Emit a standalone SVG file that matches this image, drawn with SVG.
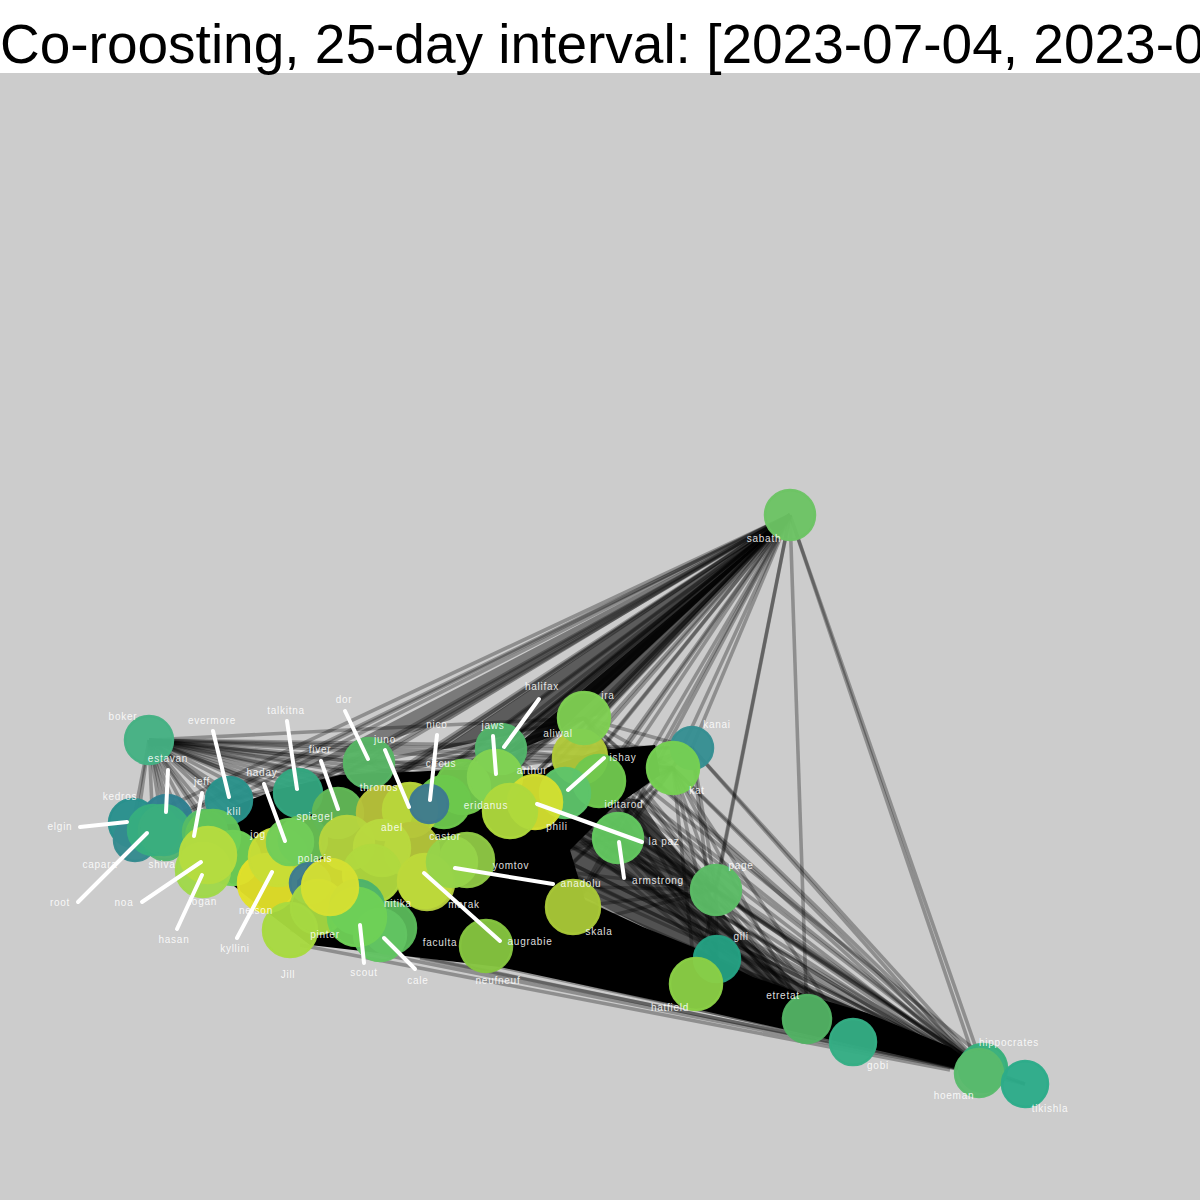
<svg xmlns="http://www.w3.org/2000/svg" width="1200" height="1200" viewBox="0 0 1200 1200">
<style>
#edges path{fill:none;stroke:#000;stroke-opacity:.3;stroke-width:3.6}
#edges .mass{fill:#000;stroke:none}
.n circle{stroke-width:2.5;fill-opacity:.96;stroke-opacity:.96}
#leaders path{fill:none;stroke:#fff;stroke-width:4;stroke-linecap:round}
#labels text{font-family:"Liberation Sans",Arial,sans-serif;font-size:10px;letter-spacing:.75px;fill:#fff;fill-opacity:.88;text-anchor:middle}
</style>
<rect width="1200" height="1200" fill="#cccccc"/>
<rect width="1200" height="73" fill="#ffffff"/>
<text x="0" y="63" font-family="'Liberation Sans',Arial,sans-serif" font-size="55" fill="#000">Co-roosting, 25-day interval: [2023-07-04, 2023-0</text>
<g id="edges">
<path class="mass" d="M190 850L225 810L275 790L340 775L450 770L540 770L600 750L655 745L660 775L610 810L570 850L585 900L643 927L693 947L753 977L800 993L867 1013L950 1047L975 1066L957 1068L840 1042L700 1010L500 967L310 945L245 895Z"/>
<path class="mass" style="fill-opacity:.6" d="M560 800L610 795L640 800L660 830L700 880L735 930L800 985L930 1040L790 1000L640 925L570 890Z"/>
<path class="mass" style="fill-opacity:.9" d="M788 518L505 755L555 735Z"/>
<path class="mass" style="fill-opacity:.55" d="M790 515L440 750L600 715Z"/>
<path class="mass" style="fill-opacity:.4" d="M790 515L300 770L450 720Z"/>
<path d="M790 515L338 813"/><path d="M790 515L369 763"/><path d="M790 515L298 793"/><path d="M790 515L384 813"/><path d="M790 515L410 810"/><path d="M790 515L429 804"/><path d="M790 515L445 801"/><path d="M790 515L463 787"/><path d="M790 515L501 749"/><path d="M790 515L495 777"/><path d="M790 515L510 811"/><path d="M790 515L535 802"/><path d="M790 515L565 793"/><path d="M790 515L580 757"/><path d="M790 515L584 718"/><path d="M790 515L599 781"/><path d="M790 515L618 838"/><path d="M790 515L673 768"/><path d="M790 515L692 748"/><path d="M790 515L716 890"/><path d="M790 515L716 886"/><path d="M790 515L807 1019"/><path d="M790 515L983 1068"/><path d="M790 515L979 1073"/><path d="M790 515L347 843"/><path d="M790 515L385 840"/><path d="M790 515L427 883"/><path d="M790 515L450 863"/><path d="M790 515L467 860"/><path d="M790 515L330 887"/><path d="M790 515L357 917"/><path d="M790 515L380 930"/><path d="M790 515L400 928"/><path d="M790 515L486 946"/><path d="M790 515L573 907"/><path d="M790 515L229 800"/><path d="M790 515L208 853"/><path d="M790 515L288 842"/><path d="M790 515L303 840"/><path d="M790 515L273 857"/><path d="M790 515L167 820"/><path d="M790 515L133 823"/><path d="M790 515L153 830"/><path d="M790 515L213 837"/><path d="M790 515L620 770"/><path d="M790 515L640 770"/><path d="M790 515L605 745"/>
<path d="M149 740L133 823"/><path d="M149 740L135 840"/><path d="M149 740L167 820"/><path d="M149 740L153 830"/><path d="M149 740L163 830"/><path d="M149 740L175 828"/><path d="M149 740L229 800"/><path d="M149 740L208 853"/><path d="M149 740L213 837"/><path d="M149 740L233 858"/><path d="M149 740L200 870"/><path d="M149 740L288 842"/><path d="M149 740L303 840"/><path d="M149 740L273 857"/><path d="M149 740L267 883"/><path d="M149 740L330 887"/><path d="M149 740L347 843"/><path d="M149 740L385 840"/><path d="M149 740L384 813"/><path d="M149 740L410 810"/><path d="M149 740L338 813"/><path d="M149 740L298 793"/><path d="M149 740L369 763"/><path d="M149 740L429 804"/><path d="M149 740L445 801"/><path d="M149 740L463 787"/><path d="M149 740L495 777"/><path d="M149 740L501 749"/><path d="M149 740L510 811"/><path d="M149 740L535 802"/><path d="M149 740L580 757"/><path d="M149 740L584 718"/><path d="M149 740L565 793"/><path d="M149 740L599 781"/><path d="M149 740L673 768"/><path d="M149 740L692 748"/>
<path d="M979 1073L673 768"/><path d="M983 1068L692 748"/><path d="M979 1073L584 718"/><path d="M983 1068L580 757"/><path d="M979 1073L599 781"/><path d="M983 1068L565 793"/><path d="M979 1073L618 838"/><path d="M983 1068L716 890"/><path d="M979 1073L716 890"/><path d="M979 1073L717 959"/><path d="M983 1068L673 768"/><path d="M979 1073L692 748"/><path d="M983 1068L584 718"/><path d="M979 1073L535 802"/><path d="M983 1068L510 811"/><path d="M979 1073L495 777"/><path d="M983 1068L501 749"/><path d="M979 1073L463 787"/><path d="M983 1068L445 801"/><path d="M979 1073L429 804"/><path d="M983 1068L410 810"/><path d="M979 1073L384 813"/><path d="M983 1068L369 763"/><path d="M979 1073L467 860"/><path d="M979 1073L133 823"/><path d="M983 1068L149 740"/><path d="M979 1073L229 800"/><path d="M979 1073L200 870"/><path d="M979 1073L290 930"/><path d="M979 1073L318 907"/><path d="M979 1073L380 930"/><path d="M983 1068L486 946"/><path d="M979 1073L357 917"/><path d="M979 1073L696 984"/>
<path d="M1025 1084L983 1068"/><path d="M1025 1084L979 1073"/><path d="M1025 1084L979 1068"/>
<path d="M673 768L716 890"/><path d="M673 768L717 959"/><path d="M673 768L807 1019"/><path d="M673 768L853 1042"/><path d="M673 768L696 984"/><path d="M692 748L716 890"/><path d="M692 748L717 959"/><path d="M692 748L584 718"/><path d="M673 768L618 838"/><path d="M673 768L573 907"/><path d="M673 768L486 946"/><path d="M673 768L467 860"/><path d="M673 768L427 883"/><path d="M673 768L400 928"/><path d="M692 748L467 860"/><path d="M692 748L486 946"/><path d="M692 748L510 811"/><path d="M673 768L510 811"/><path d="M673 768L584 718"/><path d="M673 768L580 757"/><path d="M673 768L501 749"/><path d="M692 748L501 749"/><path d="M673 768L463 787"/>
<path d="M716 890L467 860"/><path d="M716 890L427 883"/><path d="M716 890L510 811"/><path d="M716 890L535 802"/><path d="M716 890L565 793"/><path d="M716 890L599 781"/><path d="M716 890L584 718"/><path d="M716 890L580 757"/><path d="M716 890L618 838"/><path d="M716 890L807 1019"/><path d="M716 890L853 1042"/><path d="M716 890L717 959"/><path d="M716 890L573 907"/><path d="M716 890L486 946"/><path d="M716 890L696 984"/>
<path d="M807 1019L618 838"/><path d="M807 1019L599 781"/><path d="M807 1019L584 718"/><path d="M807 1019L580 757"/><path d="M807 1019L565 793"/><path d="M807 1019L535 802"/><path d="M853 1042L618 838"/><path d="M853 1042L599 781"/><path d="M853 1042L584 718"/><path d="M853 1042L565 793"/><path d="M853 1042L535 802"/><path d="M717 959L618 838"/><path d="M717 959L599 781"/><path d="M717 959L565 793"/><path d="M717 959L535 802"/><path d="M717 959L584 718"/>
<path d="M618 838L467 860"/><path d="M618 838L427 883"/><path d="M618 838L510 811"/><path d="M618 838L573 907"/><path d="M584 718L501 749"/><path d="M584 718L495 777"/><path d="M584 718L463 787"/><path d="M584 718L445 801"/><path d="M584 718L410 810"/><path d="M584 718L369 763"/><path d="M584 718L338 813"/><path d="M584 718L298 793"/><path d="M580 757L369 763"/><path d="M580 757L298 793"/><path d="M501 749L298 793"/><path d="M501 749L229 800"/><path d="M369 763L229 800"/><path d="M369 763L298 793"/>
<path d="M360 950L957 1069"/><path d="M300 945L950 1070"/><path d="M420 958L955 1067"/><path d="M560 978L965 1070"/><path d="M500 967L960 1066"/><path d="M560 870L975 1065"/><path d="M640 830L970 1060"/><path d="M600 810L975 1062"/><path d="M650 790L975 1050"/><path d="M620 780L975 1062"/><path d="M610 850L960 1055"/><path d="M560 840L950 1055"/>
</g>
<g id="nodes">
<g id="boker" class="n"><circle cx="149" cy="740" r="24" fill="#45b183" stroke="#45b183"/></g>
<g id="kanai" class="n"><circle cx="692" cy="748" r="21" fill="#358f92" stroke="#358f92"/></g>
<g id="kedros" class="n"><circle cx="133" cy="823" r="24" fill="#28908c" stroke="#28908c"/></g>
<g id="capara" class="n"><circle cx="135" cy="840" r="21" fill="#348a8f" stroke="#348a8f"/></g>
<g id="estavan" class="n"><circle cx="167" cy="820" r="25" fill="#2f7f90" stroke="#2f7f90"/></g>
<g id="shiva" class="n"><circle cx="165" cy="838" r="22" fill="#4fb370" stroke="#4fb370"/></g>
<g id="elgin" class="n"><circle cx="153" cy="830" r="25" fill="#36ae7f" stroke="#36ae7f"/></g>
<g id="root" class="n"><circle cx="164" cy="830" r="25" fill="#3aae7e" stroke="#3aae7e"/></g>
<g id="evermore" class="n"><circle cx="229" cy="800" r="23" fill="#2a928a" stroke="#2a928a"/></g>
<g id="talkitna" class="n"><circle cx="298" cy="793" r="24" fill="#33a67f" stroke="#33a67f"/></g>
<g id="klil" class="n"><circle cx="205" cy="832" r="22" fill="#55bb66" stroke="#55bb66"/></g>
<g id="jeff" class="n"><circle cx="213" cy="837" r="27" fill="#62c45a" stroke="#62c45a"/></g>
<g id="hasan" class="n"><circle cx="233" cy="858" r="27" fill="#6ecf56" stroke="#6ecf56"/></g>
<g id="logan" class="n"><circle cx="203" cy="870" r="27" fill="#a0d84a" stroke="#a0d84a"/></g>
<g id="noa" class="n"><circle cx="208" cy="855" r="28" fill="#b5dc40" stroke="#b5dc40"/></g>
<g id="nelson" class="n"><circle cx="267" cy="883" r="29" fill="#e2e02a" stroke="#e2e02a"/></g>
<g id="kyllini" class="n"><circle cx="278" cy="857" r="29" fill="#c8dd36" stroke="#c8dd36"/></g>
<g id="jog" class="n"><circle cx="303" cy="840" r="24" fill="#68c054" stroke="#68c054"/></g>
<g id="haday" class="n"><circle cx="290" cy="842" r="23" fill="#71cd58" stroke="#71cd58"/></g>
<g id="fiver" class="n"><circle cx="338" cy="813" r="25" fill="#62b856" stroke="#62b856"/></g>
<g id="polaris" class="n"><circle cx="310" cy="883" r="20" fill="#3d7b90" stroke="#3d7b90"/></g>
<g id="Jill" class="n"><circle cx="290" cy="930" r="27" fill="#a8da40" stroke="#a8da40"/></g>
<g id="pinter" class="n"><circle cx="318" cy="907" r="27" fill="#a5d942" stroke="#a5d942"/></g>
<g id="dor" class="n"><circle cx="369" cy="763" r="25" fill="#57b565" stroke="#57b565"/></g>
<g id="thronos" class="n"><circle cx="384" cy="813" r="27" fill="#b8c33a" stroke="#b8c33a"/></g>
<g id="arthur" class="n"><circle cx="463" cy="787" r="27" fill="#72c84e" stroke="#72c84e"/></g>
<g id="circus" class="n"><circle cx="444" cy="802" r="26" fill="#6cc84c" stroke="#6cc84c"/></g>
<g id="juno" class="n"><circle cx="410" cy="810" r="27" fill="#b8d53a" stroke="#b8d53a"/></g>
<g id="nico" class="n"><circle cx="429" cy="804" r="19" fill="#3d7a8f" stroke="#3d7a8f"/></g>
<g id="phili" class="n"><circle cx="412" cy="850" r="27" fill="#b5c63a" stroke="#b5c63a"/></g>
<g id="abel" class="n"><circle cx="347" cy="843" r="27" fill="#b5d43e" stroke="#b5d43e"/></g>
<g id="castor" class="n"><circle cx="382" cy="848" r="28" fill="#b8d93e" stroke="#b8d93e"/></g>
<g id="spiegel" class="n"><circle cx="372" cy="874" r="29" fill="#b0d83e" stroke="#b0d83e"/></g>
<g id="yomtov" class="n"><circle cx="467" cy="860" r="27" fill="#8fc845" stroke="#8fc845"/></g>
<g id="marak" class="n"><circle cx="427" cy="883" r="27" fill="#b4cc3c" stroke="#b4cc3c"/></g>
<g id="augrabie" class="n"><circle cx="425" cy="881" r="27" fill="#bcd93a" stroke="#bcd93a"/></g>
<g id="anadolu" class="n"><circle cx="452" cy="862" r="25" fill="#96d34a" stroke="#96d34a"/></g>
<g id="nitika" class="n"><circle cx="357" cy="907" r="27" fill="#4db36b" stroke="#4db36b"/></g>
<g id="faculta" class="n"><circle cx="390" cy="928" r="26" fill="#5ab85a" stroke="#5ab85a"/></g>
<g id="cale" class="n"><circle cx="380" cy="935" r="26" fill="#62c462" stroke="#62c462"/></g>
<g id="scout" class="n"><circle cx="357" cy="917" r="29" fill="#6ed056" stroke="#6ed056"/></g>
<g id="node63" class="n"><circle cx="330" cy="887" r="28" fill="#d5e032" stroke="#d5e032"/></g>
<g id="neufneuf" class="n"><circle cx="486" cy="946" r="26" fill="#85c540" stroke="#85c540"/></g>
<g id="skala" class="n"><circle cx="573" cy="907" r="27" fill="#a9c837" stroke="#a9c837"/></g>
<g id="aliwal" class="n"><circle cx="580" cy="757" r="27" fill="#b0c93a" stroke="#b0c93a"/></g>
<g id="ira" class="n"><circle cx="584" cy="718" r="26" fill="#7fcf52" stroke="#7fcf52"/></g>
<g id="iditarod" class="n"><circle cx="599" cy="781" r="26" fill="#6fc84e" stroke="#6fc84e"/></g>
<g id="ishay" class="n"><circle cx="565" cy="793" r="25" fill="#5ec46a" stroke="#5ec46a"/></g>
<g id="halifax" class="n"><circle cx="501" cy="749" r="25" fill="#52b36a" stroke="#52b36a"/></g>
<g id="jaws" class="n"><circle cx="495" cy="777" r="27" fill="#82d252" stroke="#82d252"/></g>
<g id="lapaz" class="n"><circle cx="535" cy="802" r="27" fill="#d3df30" stroke="#d3df30"/></g>
<g id="eridanus" class="n"><circle cx="510" cy="811" r="27" fill="#aed93c" stroke="#aed93c"/></g>
<g id="armstrong" class="n"><circle cx="618" cy="838" r="25" fill="#63c760" stroke="#63c760"/></g>
<g id="kat" class="n"><circle cx="673" cy="768" r="26" fill="#76cf52" stroke="#76cf52"/></g>
<g id="page" class="n"><circle cx="716" cy="890" r="25" fill="#5cbb66" stroke="#5cbb66"/></g>
<g id="gili" class="n"><circle cx="717" cy="959" r="23" fill="#24a082" stroke="#24a082"/></g>
<g id="hatfield" class="n"><circle cx="696" cy="984" r="26" fill="#8acf46" stroke="#8acf46"/></g>
<g id="etretat" class="n"><circle cx="807" cy="1019" r="24" fill="#52b264" stroke="#52b264"/></g>
<g id="gobi" class="n"><circle cx="853" cy="1042" r="23" fill="#34ae84" stroke="#34ae84"/></g>
<g id="hippocrates" class="n"><circle cx="983" cy="1068" r="24" fill="#37b07b" stroke="#37b07b"/></g>
<g id="hoeman" class="n"><circle cx="979" cy="1073" r="24" fill="#59ba6c" stroke="#59ba6c"/></g>
<g id="tikishla" class="n"><circle cx="1025" cy="1084" r="23" fill="#2dac89" stroke="#2dac89"/></g>
<g id="sabath" class="n"><circle cx="790" cy="515" r="25" fill="#6cc464" stroke="#6cc464"/></g>
</g>
<g id="leaders">
<path d="M213 731L229 797"/><path d="M287 721L297 789"/><path d="M345 711L368 759"/><path d="M385 750L409 807"/><path d="M437 735L430 800"/><path d="M539 699L504 747"/><path d="M493 736L496 774"/><path d="M604 758L568 790"/><path d="M537 804L642 842"/><path d="M619 842L624 878"/><path d="M455 868L553 884"/><path d="M424 873L500 941"/><path d="M321 761L338 809"/><path d="M264 784L285 841"/><path d="M168 770L166 812"/><path d="M202 793L194 836"/><path d="M80 827L127 822"/><path d="M78 902L147 833"/><path d="M142 902L201 862"/><path d="M177 929L202 875"/><path d="M237 938L272 872"/><path d="M364 963L360 925"/><path d="M415 969L384 938"/>
</g>
<g id="labels">
<text x="123" y="720">boker</text><text x="212" y="724">evermore</text><text x="286" y="714">talkitna</text><text x="344" y="703">dor</text><text x="437" y="728">nico</text><text x="542" y="690">halifax</text><text x="493" y="729">jaws</text><text x="608" y="699">ira</text><text x="558" y="737">aliwal</text><text x="717" y="728">kanai</text><text x="168" y="762">estavan</text><text x="202" y="785">jeff</text><text x="262" y="776">haday</text><text x="320" y="753">fiver</text><text x="385" y="743">juno</text><text x="441" y="767">circus</text><text x="532" y="774">arthur</text><text x="623" y="761">ishay</text><text x="697" y="794">kat</text><text x="120" y="800">kedros</text><text x="234" y="815">klil</text><text x="315" y="820">spiegel</text><text x="379" y="791">thronos</text><text x="486" y="809">eridanus</text><text x="624" y="808">iditarod</text><text x="60" y="830">elgin</text><text x="258" y="838">jog</text><text x="392" y="831">abel</text><text x="445" y="840">castor</text><text x="557" y="830">phili</text><text x="664" y="845">la paz</text><text x="100" y="868">capara</text><text x="162" y="868">shiva</text><text x="315" y="862">polaris</text><text x="511" y="869">yomtov</text><text x="658" y="884">armstrong</text><text x="741" y="869">page</text><text x="60" y="906">root</text><text x="124" y="906">noa</text><text x="203" y="905">logan</text><text x="174" y="943">hasan</text><text x="256" y="914">nelson</text><text x="464" y="908">marak</text><text x="581" y="887">anadolu</text><text x="599" y="935">skala</text><text x="235" y="952">kyllini</text><text x="325" y="938">pinter</text><text x="398" y="907">nitika</text><text x="440" y="946">faculta</text><text x="530" y="945">augrabie</text><text x="741" y="940">gili</text><text x="288" y="978">Jill</text><text x="364" y="976">scout</text><text x="418" y="984">cale</text><text x="498" y="984">neufneuf</text><text x="670" y="1011">hatfield</text><text x="783" y="999">etretat</text><text x="878" y="1069">gobi</text><text x="1009" y="1046">hippocrates</text><text x="954" y="1099">hoeman</text><text x="1050" y="1112">tikishla</text><text x="764" y="542">sabath</text>
</g>
</svg>
